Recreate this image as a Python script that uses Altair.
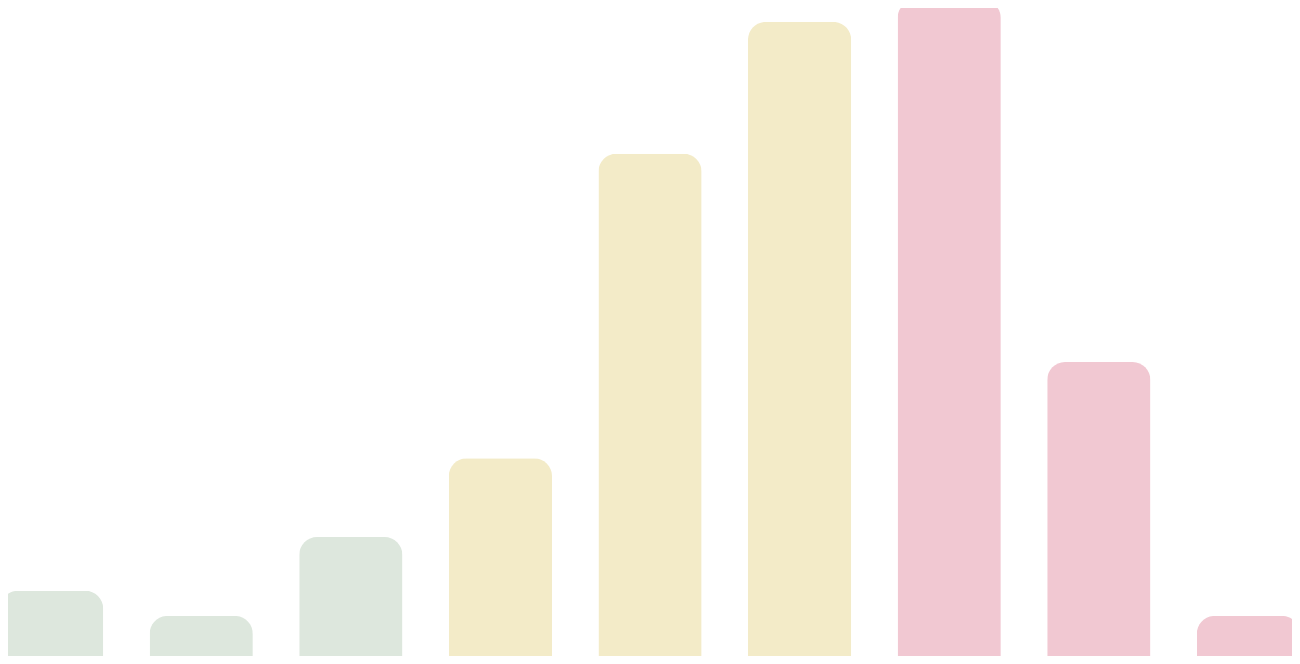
import altair as alt
import pandas as pd

categories = ["A", "B", "C", "D", "E", "F", "G", "H", "I"]
values = [10.9, 7.1, 19.0, 30.9, 76.8, 96.7, 100, 45.4, 7.1]
groups = ["low", "low", "low", "mid", "mid", "mid", "high", "high", "high"]
group_names = ["low", "mid", "high"]
group_colors = ["#dde7dd", "#f3ebc8", "#f1c8d2"]

df = pd.DataFrame({"cat": categories, "value": values, "group": groups})

chart = (
    alt.Chart(df)
    .mark_bar(cornerRadiusTopLeft=18, cornerRadiusTopRight=18)
    .encode(
        x=alt.X("cat:N", sort=categories, axis=None,
                scale=alt.Scale(paddingInner=0.31, paddingOuter=0)),
        y=alt.Y("value:Q", axis=None, scale=alt.Scale(domain=[0, 100], nice=False, zero=True)),
        color=alt.Color("group:N", legend=None,
                        scale=alt.Scale(domain=group_names, range=group_colors)),
    )
    .properties(
        width=1300,
        height=663,
        padding={"left": -8, "top": -8, "right": -8, "bottom": -7},
        autosize=alt.AutoSizeParams(type="none"),
    )
    .configure_view(stroke=None)
    .configure(background="white")
)

chart.save("out.html", embed_options={"renderer": "svg", "actions": False})
